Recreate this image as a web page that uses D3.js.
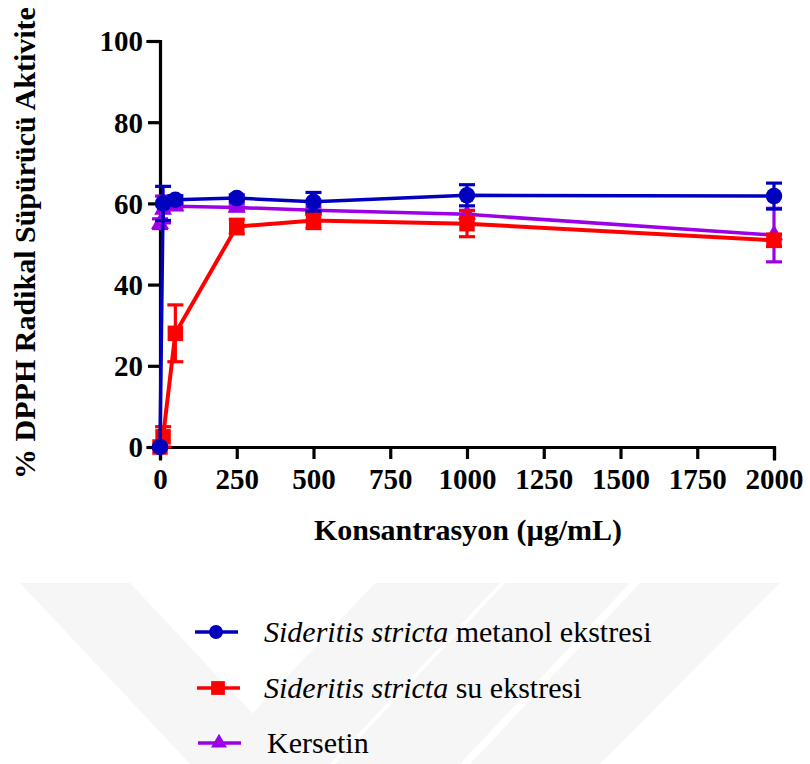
<!DOCTYPE html>
<html>
<head>
<meta charset="utf-8">
<script src="https://cdn.jsdelivr.net/npm/d3@7"></script>
<style>
  html, body { margin: 0; padding: 0; background: #fff; }
  svg { display: block; }
  text { font-family: "Liberation Serif", "DejaVu Serif", serif; }
</style>
</head>
<body>
<svg id="chart" width="810" height="764"></svg>
<script>
// Concentrations (µg/mL) and % DPPH radical scavenging activity (mean ± SD)
const concentrations = [0, 10, 50, 250, 500, 1000, 2000];
const metanolMean = [0, 60.0, 60.9, 61.3, 60.4, 62.0, 61.8];
const metanolSD   = [0, 4.2, 1.0, 0.8, 2.3, 2.6, 3.2];
const suMean      = [0, 2.5, 28.0, 54.3, 55.8, 55.0, 50.9];
const suSD        = [0, 2.5, 7.0, 1.8, 2.0, 3.2, 1.5];
const kersetinMean = [55.0, 58.5, 59.3, 59.0, 58.3, 57.3, 52.2];
const kersetinSD   = [1.2, 3.3, 0.8, 0.8, 0.8, 1.0, 6.6];

const xTicks = [0, 250, 500, 750, 1000, 1250, 1500, 1750, 2000];
const yTicks = [0, 20, 40, 60, 80, 100];

const seriesNames = ["Sideritis stricta", "Sideritis stricta", "Kersetin"];
const seriesSuffix = [" metanol ekstresi", " su ekstresi", ""];

const svg = d3.select("#chart");

// faint diagonal background bands
const bands = [
  [[20,583],[130,583],[300,764],[190,764]],
  [[375,583],[500,583],[330,764],[205,764]],
  [[505,583],[630,583],[460,764],[335,764]],
  [[640,583],[780,583],[600,764],[470,764]]
];
svg.append("g").selectAll("polygon").data(bands).join("polygon")
  .attr("points", d => d.map(p => p.join(",")).join(" "))
  .attr("fill", "#f6f6f6");

const x = d3.scaleLinear().domain([0, 2000]).range([160, 774]);
const y = d3.scaleLinear().domain([0, 100]).range([447, 41]);

// axes
const xAxis = svg.append("g").attr("transform", `translate(0,${y(0)})`)
  .call(d3.axisBottom(x).tickValues(xTicks).tickSize(12).tickPadding(9).tickFormat(d3.format("d")));
const yAxis = svg.append("g").attr("transform", `translate(${x(0)},0)`)
  .call(d3.axisLeft(y).tickValues(yTicks).tickSize(12).tickPadding(5));
[xAxis, yAxis].forEach(g => {
  g.attr("font-family", null).attr("font-size", null);
  g.select(".domain").attr("stroke", "#000").attr("stroke-width", 3.2).attr("stroke-linecap", "square");
  g.selectAll(".tick line").attr("stroke", "#000").attr("stroke-width", 3.2);
  g.selectAll(".tick text").attr("fill", "#000")
    .attr("font-size", 29).attr("font-weight", "bold");
});
yAxis.selectAll(".tick text").attr("dy", "0.34em");

// axis titles
svg.append("text")
  .attr("x", 468).attr("y", 540).attr("text-anchor", "middle")
  .attr("font-size", 30).attr("font-weight", "bold")
  .text("Konsantrasyon (µg/mL)");
svg.append("text")
  .attr("transform", "translate(35,243) rotate(-90)").attr("text-anchor", "middle")
  .attr("font-size", 30).attr("font-weight", "bold")
  .text("% DPPH Radikal Süpürücü Aktivite");

// series
const series = [
  { mean: kersetinMean, sd: kersetinSD, color: "#9b00e6", shape: "triangle", lw: 3.5 },
  { mean: suMean, sd: suSD, color: "#ff0000", shape: "square", lw: 4 },
  { mean: metanolMean, sd: metanolSD, color: "#0000bf", shape: "circle", lw: 3.5 }
];

const symbolFor = {
  circle: d3.symbol(d3.symbolCircle, 215),
  square: d3.symbol(d3.symbolSquare, 240),
  triangle: d3.symbol(d3.symbolTriangle, 140)
};

const line = d3.line().x(d => x(d.c)).y(d => y(d.m));
const cap = 8;

series.forEach(s => {
  const pts = concentrations.map((c, i) => ({ c, m: s.mean[i], sd: s.sd[i] }));
  const g = svg.append("g");
  g.append("path").datum(pts).attr("d", line)
    .attr("fill", "none").attr("stroke", s.color).attr("stroke-width", s.lw);
  const eb = g.selectAll("g.eb").data(pts.filter(p => p.sd > 0)).join("g");
  eb.append("line")
    .attr("x1", d => x(d.c)).attr("x2", d => x(d.c))
    .attr("y1", d => y(d.m + d.sd)).attr("y2", d => y(d.m - d.sd))
    .attr("stroke", s.color).attr("stroke-width", 3.2);
  [1, -1].forEach(sign => {
    eb.append("line")
      .attr("x1", d => x(d.c) - cap).attr("x2", d => x(d.c) + cap)
      .attr("y1", d => y(d.m + sign * d.sd)).attr("y2", d => y(d.m + sign * d.sd))
      .attr("stroke", s.color).attr("stroke-width", 3.2);
  });
  g.selectAll("path.mk").data(pts).join("path").attr("class", "mk")
    .attr("transform", d => `translate(${x(d.c)},${y(d.m)})`)
    .attr("d", symbolFor[s.shape]())
    .attr("fill", s.color);
});

// legend
const legendRows = [
  { color: "#0000bf", shape: "circle", italic: seriesNames[0], rest: seriesSuffix[0], y: 632, x0: 195 },
  { color: "#ff0000", shape: "square", italic: seriesNames[1], rest: seriesSuffix[1], y: 688, x0: 197 },
  { color: "#9b00e6", shape: "triangle", italic: "", rest: seriesNames[2], y: 743, x0: 198 }
];
const legendSym = {
  circle: d3.symbol(d3.symbolCircle, 150),
  square: d3.symbol(d3.symbolSquare, 190),
  triangle: d3.symbol(d3.symbolTriangle, 110)
};
const lg = svg.append("g");
legendRows.forEach(r => {
  lg.append("line").attr("x1", r.x0).attr("x2", r.x0 + 43).attr("y1", r.y).attr("y2", r.y)
    .attr("stroke", r.color).attr("stroke-width", 3.5);
  lg.append("path").attr("transform", `translate(${r.x0 + 21},${r.y})`)
    .attr("d", legendSym[r.shape]()).attr("fill", r.color);
  const t = lg.append("text").attr("x", r.italic ? 264 : 267).attr("y", r.y + 10)
    .attr("font-size", 30).attr("font-weight", "normal").attr("fill", "#000");
  if (r.italic) t.append("tspan").attr("font-style", "italic").text(r.italic);
  t.append("tspan").text(r.rest);
});
</script>
</body>
</html>
